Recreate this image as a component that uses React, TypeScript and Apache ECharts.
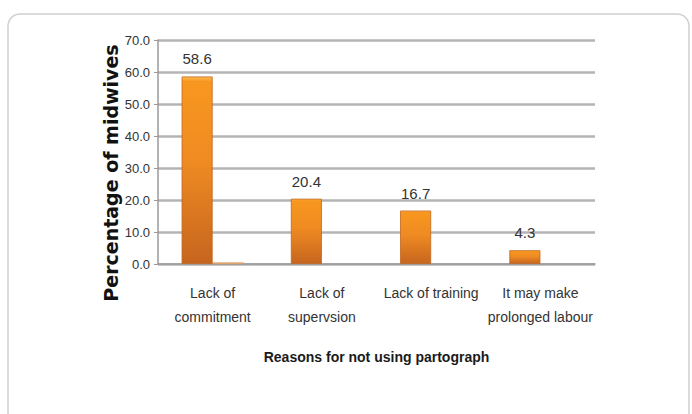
import React, { useEffect, useRef } from "react";
import * as echarts from "echarts";

const categories = ["Lack of\ncommitment", "Lack of\nsupervsion", "Lack of training", "It may make\nprolonged labour"];
const mainValues = [58.6, 20.4, 16.7, 4.3];
const secondValues: (number | null)[] = [0.5, null, null, null];
const yTicks = { min: 0, max: 70, interval: 10 };
const yAxisTitle = "Percentage of midwives";
const xAxisTitle = "Reasons for not using partograph";

const NARROW = '"Liberation Sans Narrow", "Arial Narrow", "Liberation Sans", Arial, sans-serif';

export default function App() {
  const ref = useRef<HTMLDivElement>(null);
  useEffect(() => {
    if (!ref.current) return;
    const chart = echarts.init(ref.current, undefined, { renderer: "svg" });
    chart.setOption({
      animation: false,
      backgroundColor: "#ffffff",
      graphic: [
        {
          type: "rect",
          shape: { x: 8, y: 14, width: 681, height: 410, r: 12 },
          style: { fill: "none", stroke: "#cfcfcf", lineWidth: 1.5 },
          z: -1,
        },
        {
          type: "text",
          x: 111,
          y: 173,
          rotation: Math.PI / 2,
          style: {
            text: yAxisTitle,
            fontFamily: '"DejaVu Sans", sans-serif',
            fontSize: 19,
            fontWeight: "bold",
            fill: "#111111",
            align: "center",
            verticalAlign: "middle",
          },
        },
      ],
      grid: { left: 158, right: 97, top: 40, bottom: 150, containLabel: false },
      xAxis: {
        type: "category",
        data: categories,
        name: xAxisTitle,
        nameLocation: "middle",
        nameGap: 86,
        nameTextStyle: { fontFamily: NARROW, fontSize: 14, fontWeight: "bold", color: "#1a1a1a" },
        axisLine: { lineStyle: { color: "#9a9a9a", width: 1.5 } },
        axisTick: { show: false },
        axisLabel: {
          fontFamily: NARROW,
          fontSize: 14,
          color: "#333333",
          lineHeight: 24,
          margin: 17,
          interval: 0,
        },
      },
      yAxis: {
        type: "value",
        min: yTicks.min,
        max: yTicks.max,
        interval: yTicks.interval,
        axisLine: { show: true, lineStyle: { color: "#9a9a9a", width: 1.5 } },
        axisTick: { show: true, length: 4, lineStyle: { color: "#9a9a9a" } },
        axisLabel: {
          fontFamily: NARROW,
          fontSize: 13,
          color: "#333333",
          margin: 8,
          formatter: (v: number) => v.toFixed(1),
        },
        splitLine: { lineStyle: { color: "#b4b4b4", width: 2.5 } },
      },
      series: [
        {
          type: "bar",
          data: mainValues,
          barWidth: 31,
          barGap: "0%",
          itemStyle: {
            color: new echarts.graphic.LinearGradient(0, 0, 0, 1, [
              { offset: 0, color: "#FDBA55" },
              { offset: 0.025, color: "#F8971F" },
              { offset: 0.45, color: "#EF8B22" },
              { offset: 1, color: "#C6651F" },
            ]),
            borderColor: "#C2651C",
            borderWidth: 0.8,
          },
          label: {
            show: true,
            position: "top",
            distance: 10,
            fontFamily: NARROW,
            fontSize: 15,
            color: "#333333",
            formatter: (p: any) => Number(p.value).toFixed(1),
          },
        },
        {
          type: "bar",
          data: secondValues,
          barWidth: 31,
          barGap: "0%",
          itemStyle: { color: "#F4BE8C", borderColor: "#D98A4A", borderWidth: 0.5 },
          label: { show: false },
        },
      ],
    });
    return () => chart.dispose();
  }, []);
  return <div ref={ref} style={{ position: "fixed", left: 0, top: 0, width: 692, height: 414 }} />;
}
